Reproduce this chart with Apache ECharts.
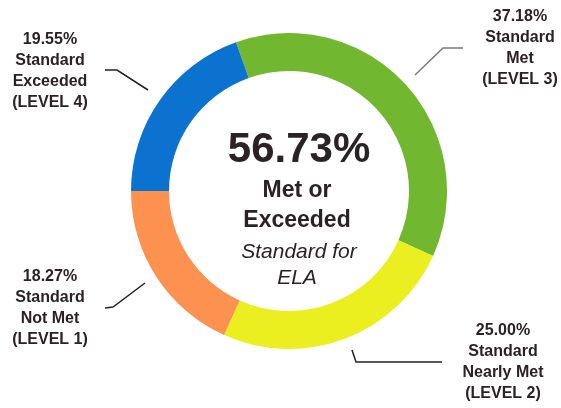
<!DOCTYPE html>
<html>
<head>
<meta charset="utf-8">
<script src="https://cdn.jsdelivr.net/npm/echarts@6/dist/echarts.min.js"></script>
<style>
  html, body { margin: 0; padding: 0; background: #fff; }
  #chart { width: 561px; height: 408px; }
</style>
</head>
<body>
<div id="chart"></div>
<script>
// clockwise order starting at the top (green)
const levels = ['LEVEL 3', 'LEVEL 2', 'LEVEL 1', 'LEVEL 4']
const names = ['Standard\nMet', 'Standard\nNearly Met', 'Standard\nNot Met', 'Standard\nExceeded']
const percents = [37.18, 25.00, 18.27, 19.55]
const colors = ['#71b72f', '#ebef20', '#fd9150', '#0b72cf']
const lineColors = ['#7a7a7a', '#222222', '#222222', '#222222']
const centerValue = '56.73%'

// label placement (x, y of text block and the leader line points)
const labelPos = [
  { x: 520, y: 48, line: [[415, 75], [443, 48], [463, 48]] },
  { x: 503, y: 362, line: [[352, 350], [356, 362], [442, 362]] },
  { x: 50, y: 308, line: [[145, 283], [113, 307], [105, 308]] },
  { x: 50, y: 71, line: [[148, 90], [117, 70], [105, 70]] }
]

const chart = echarts.init(document.getElementById('chart'))

const data = percents.map((v, i) => ({
  value: v,
  name: names[i],
  itemStyle: { color: colors[i] },
  labelLine: { lineStyle: { color: lineColors[i], width: 1.5 } }
}))

chart.setOption({
  animation: false,
  title: [
    { text: centerValue, left: 294, top: 145, textAlign: 'center', textVerticalAlign: 'middle',
      textStyle: { fontFamily: 'Liberation Sans', fontWeight: 'bold', fontSize: 42, color: '#2b2226' } },
    { text: 'Met or', left: 292, top: 186, textAlign: 'center', textVerticalAlign: 'middle',
      textStyle: { fontFamily: 'Liberation Sans', fontWeight: 'bold', fontSize: 23, color: '#2b2226' } },
    { text: 'Exceeded', left: 292, top: 216, textAlign: 'center', textVerticalAlign: 'middle',
      textStyle: { fontFamily: 'Liberation Sans', fontWeight: 'bold', fontSize: 23, color: '#2b2226' } },
    { text: 'Standard for', left: 294, top: 247, textAlign: 'center', textVerticalAlign: 'middle',
      textStyle: { fontFamily: 'Liberation Sans', fontStyle: 'italic', fontWeight: 'normal', fontSize: 21, color: '#2b2226' } },
    { text: 'ELA', left: 292, top: 273, textAlign: 'center', textVerticalAlign: 'middle',
      textStyle: { fontFamily: 'Liberation Sans', fontStyle: 'italic', fontWeight: 'normal', fontSize: 21, color: '#2b2226' } }
  ],
  series: [{
    type: 'pie',
    center: [289, 191],
    radius: [120, 158],
    startAngle: 109.6,
    clockwise: true,
    avoidLabelOverlap: false,
    data: data,
    itemStyle: { borderWidth: 0 },
    emphasis: { disabled: true },
    label: {
      show: true,
      position: 'outside',
      fontFamily: 'Liberation Sans',
      fontWeight: 'bold',
      fontSize: 16,
      lineHeight: 21,
      color: '#2a2226',
      formatter: (p) => `${p.value.toFixed(2)}%\n${p.name}\n(${levels[p.dataIndex]})`
    },
    labelLine: { show: true },
    labelLayout: (params) => {
      const pos = labelPos[params.dataIndex]
      return {
        x: pos.x,
        y: pos.y,
        align: 'center',
        verticalAlign: 'middle',
        labelLinePoints: pos.line
      }
    }
  }]
})
</script>
</body>
</html>
